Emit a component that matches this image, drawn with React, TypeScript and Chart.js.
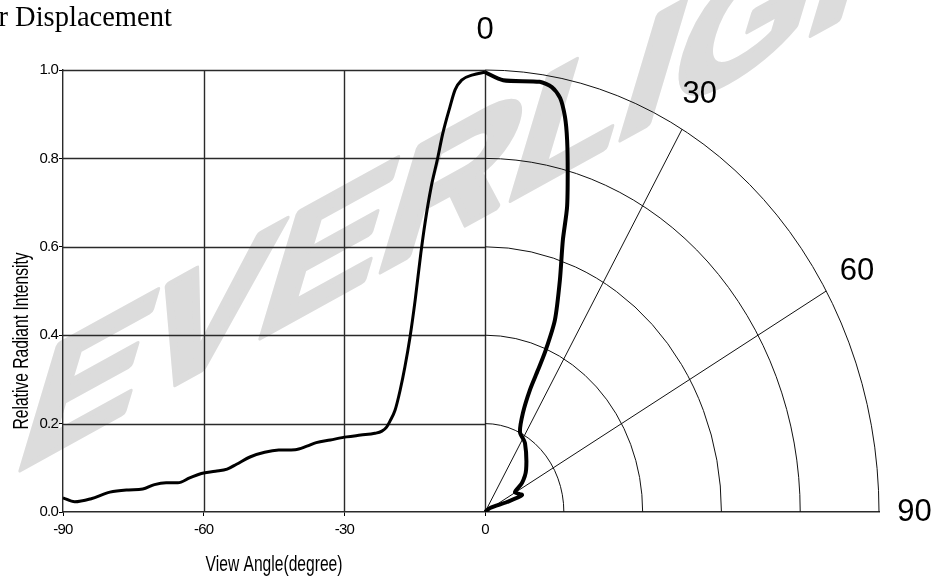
import { useEffect, useRef } from "react";
import { Chart, registerables } from "chart.js";

Chart.register(...registerables);

// Cartesian half: relative radiant intensity against view angle (negative side)
const LEFT_ANGLES = [
  -90, -87.5, -84, -80, -76, -73, -70.5, -68, -65.5, -63, -60.5, -57.5, -55, -53,
  -50, -47, -44, -40.5, -38, -36, -33, -29.5, -26.5, -23.5, -22, -21, -20.3, -19.2,
  -18.1, -17.1, -16, -14.9, -13.7, -12.8, -11.5, -10.2, -9, -7.5, -6.4, -5, -2.6, 0,
];
const LEFT_INTENSITY = [
  0.032, 0.023, 0.03, 0.045, 0.05, 0.052, 0.062, 0.066, 0.066, 0.077, 0.087, 0.092,
  0.097, 0.108, 0.125, 0.135, 0.14, 0.141, 0.149, 0.157, 0.163, 0.17, 0.174, 0.178,
  0.183, 0.192, 0.205, 0.23, 0.276, 0.328, 0.396, 0.48, 0.585, 0.654, 0.735, 0.796,
  0.857, 0.916, 0.955, 0.977, 0.989, 0.995,
];

// Polar half: intensity against angle (positive side), angle measured from the vertical
const POLAR_ANGLES = [
  0, 2.7, 8.1, 10, 11.5, 12.8, 13.9, 15.3, 16.8, 17.8, 19.9, 22.2, 22.8, 22.7, 22.4,
  23.2, 26.1, 33, 47.6, 55, 59.4, 67.7, 67.9, 54.7, 0,
];
const POLAR_INTENSITY = [
  0.995, 0.978, 0.983, 0.976, 0.956, 0.916, 0.867, 0.795, 0.72, 0.646, 0.558, 0.469,
  0.398, 0.348, 0.299, 0.244, 0.2015, 0.186, 0.141, 0.1145, 0.088, 0.1014, 0.06,
  0.0156, 0,
];

const X_TICKS = [-90, -60, -30, 0];
const Y_TICKS = [0, 0.2, 0.4, 0.6, 0.8, 1.0];
const POLAR_RINGS = [0.2, 0.4, 0.6, 0.8, 1.0];
const POLAR_SPOKES = [30, 60];
const POLAR_LABELS = [0, 30, 60, 90];

const TITLE = "r Displacement";
const X_TITLE = "View Angle(degree)";
const Y_TITLE = "Relative Radiant Intensity";
const WATERMARK = "EVERLIGHT";

// x-axis units spanned by a unit radius of the polar half
const POLAR_SPAN = 84;

const SANS = '"Liberation Sans", Arial, sans-serif';
const SERIF = '"Liberation Serif", "Times New Roman", serif';
const DEG = Math.PI / 180;

const decor = {
  id: "decor",
  beforeDraw(chart: any) {
    const { ctx, width, height } = chart;
    ctx.save();
    ctx.fillStyle = "#fff";
    ctx.fillRect(0, 0, width, height);

    // slanted grey watermark
    ctx.save();
    ctx.translate(10, 475);
    ctx.transform(1, -0.55, -0.3, 1, 0, 0);
    ctx.font = `bold 180px ${SANS}`;
    ctx.fillStyle = "#dcdcdc";
    ctx.strokeStyle = "#dcdcdc";
    ctx.lineWidth = 7;
    ctx.lineJoin = "round";
    ctx.textBaseline = "alphabetic";
    ctx.textAlign = "left";
    ctx.fillText(WATERMARK, 0, 0);
    ctx.strokeText(WATERMARK, 0, 0);
    ctx.restore();

    // heading
    ctx.font = `28.5px ${SERIF}`;
    ctx.fillStyle = "#000";
    ctx.textBaseline = "alphabetic";
    ctx.textAlign = "left";
    ctx.fillText(TITLE, -1.5, 26);
    ctx.restore();

    // tighter spacing for the axis tick labels drawn next
    ctx.letterSpacing = "-0.8px";
  },
  beforeDatasetsDraw(chart: any) {
    const { ctx } = chart;
    ctx.letterSpacing = "0px";
    const x = chart.scales.x;
    const xp = chart.scales.xp;
    const y = chart.scales.y;
    const al = (v: number) => Math.round(v) + 0.5;

    ctx.save();
    ctx.strokeStyle = "#2a2a2a";
    ctx.lineWidth = 1.4;

    // cartesian grid, limited to the left half
    const left = x.getPixelForValue(X_TICKS[0]);
    const right = x.getPixelForValue(0);
    ctx.beginPath();
    for (const t of Y_TICKS) {
      if (t === 0) continue;
      const py = al(y.getPixelForValue(t));
      ctx.moveTo(left, py);
      ctx.lineTo(right, py);
    }
    for (const t of X_TICKS) {
      if (t === X_TICKS[0]) continue;
      const px = al(x.getPixelForValue(t));
      ctx.moveTo(px, y.getPixelForValue(0));
      ctx.lineTo(px, y.getPixelForValue(1));
    }
    ctx.stroke();

    // polar rings and spokes
    ctx.strokeStyle = "#111";
    ctx.lineWidth = 1;
    const cx = xp.getPixelForValue(0);
    const cy = y.getPixelForValue(0);
    for (const r of POLAR_RINGS) {
      const rx = xp.getPixelForValue(r) - cx;
      const ry = cy - y.getPixelForValue(r);
      ctx.beginPath();
      ctx.ellipse(cx, cy, rx, ry, 0, -Math.PI / 2, 0);
      ctx.stroke();
    }
    ctx.beginPath();
    for (const a of POLAR_SPOKES) {
      ctx.moveTo(cx, cy);
      ctx.lineTo(xp.getPixelForValue(Math.sin(a * DEG)), y.getPixelForValue(Math.cos(a * DEG)));
    }
    ctx.stroke();
    ctx.restore();
  },
  afterDraw(chart: any) {
    const { ctx } = chart;
    ctx.letterSpacing = "0px";
    const x = chart.scales.x;
    const xp = chart.scales.xp;
    const y = chart.scales.y;
    ctx.save();
    ctx.fillStyle = "#000";

    // polar angle labels
    ctx.font = `31px ${SANS}`;
    ctx.textAlign = "center";
    ctx.textBaseline = "middle";
    for (const a of POLAR_LABELS) {
      const r = 1.09;
      ctx.fillText(
        String(a),
        xp.getPixelForValue(r * Math.sin(a * DEG)),
        y.getPixelForValue(r * Math.cos(a * DEG)),
      );
    }

    // axis titles (condensed)
    ctx.font = `22px ${SANS}`;
    const xmid = (x.getPixelForValue(X_TICKS[0]) + x.getPixelForValue(0)) / 2;
    ctx.save();
    ctx.translate(xmid, 565);
    ctx.scale(0.71, 1);
    ctx.fillText(X_TITLE, 0, 0);
    ctx.restore();

    ctx.save();
    ctx.translate(22, 341);
    ctx.rotate(-Math.PI / 2);
    ctx.scale(0.71, 1);
    ctx.fillText(Y_TITLE, 0, 0);
    ctx.restore();

    ctx.restore();
  },
};

export default function App() {
  const ref = useRef<HTMLCanvasElement | null>(null);

  useEffect(() => {
    document.body.style.margin = "0";
    const canvas = ref.current;
    if (!canvas) return;

    const leftData = LEFT_ANGLES.map((a, i) => ({ x: a, y: LEFT_INTENSITY[i] }));
    const polarData = POLAR_ANGLES.map((a, i) => ({
      x: POLAR_INTENSITY[i] * Math.sin(a * DEG),
      y: POLAR_INTENSITY[i] * Math.cos(a * DEG),
    }));

    const chart = new Chart(canvas, {
      type: "scatter",
      data: {
        datasets: [
          {
            data: leftData,
            xAxisID: "x",
            yAxisID: "y",
            showLine: true,
            borderColor: "#000",
            borderWidth: 3,
            pointRadius: 0,
            tension: 0.4,
            cubicInterpolationMode: "monotone",
          },
          {
            data: polarData,
            xAxisID: "xp",
            yAxisID: "y",
            showLine: true,
            borderColor: "#000",
            borderWidth: 4,
            pointRadius: 0,
            tension: 0.25,
          },
        ],
      },
      plugins: [decor],
      options: {
        responsive: false,
        animation: false,
        events: [],
        layout: { padding: { left: 0, top: 70, right: 53, bottom: 0 } },
        plugins: {
          legend: { display: false },
          tooltip: { enabled: false },
          title: { display: false },
        },
        scales: {
          x: {
            type: "linear",
            position: "bottom",
            min: -90,
            max: POLAR_SPAN,
            afterBuildTicks: (s: any) => {
              s.ticks = X_TICKS.map((v) => ({ value: v }));
            },
            afterFit: (s: any) => {
              s.height = 66;
            },
            grid: {
              drawOnChartArea: false,
              drawTicks: true,
              tickLength: 4,
              color: "#000",
            },
            border: { display: true, color: "#2a2a2a", width: 1.4 },
            ticks: {
              autoSkip: false,
              maxRotation: 0,
              padding: 5,
              color: "#000",
              font: { family: SANS, size: 15 },
              callback: (v: any) => String(v),
            },
          },
          xp: {
            type: "linear",
            display: false,
            min: -90 / POLAR_SPAN,
            max: 1,
          },
          y: {
            type: "linear",
            position: "left",
            min: 0,
            max: 1,
            afterBuildTicks: (s: any) => {
              s.ticks = Y_TICKS.map((v) => ({ value: v }));
            },
            afterFit: (s: any) => {
              s.width = 63;
            },
            grid: {
              drawOnChartArea: false,
              drawTicks: true,
              tickLength: 4,
              color: "#000",
            },
            border: { display: true, color: "#2a2a2a", width: 1.4 },
            ticks: {
              autoSkip: false,
              padding: 1,
              color: "#000",
              font: { family: SANS, size: 15 },
              callback: (v: any) => Number(v).toFixed(1),
            },
          },
        },
      },
    } as any);

    return () => chart.destroy();
  }, []);

  return <canvas ref={ref} width={932} height={578} style={{ display: "block" }} />;
}
